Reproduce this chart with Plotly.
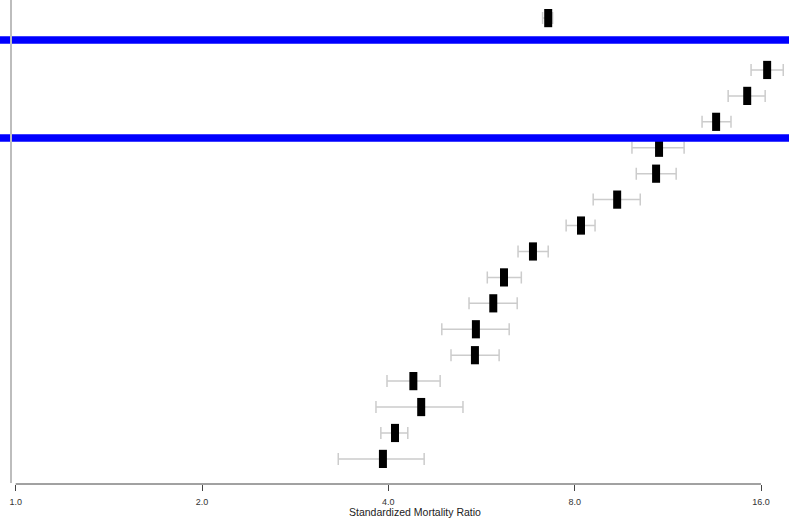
import plotly.graph_objects as go
import math

# Data: row (from top), estimate, lower CI, upper CI
rows = [0, 2, 3, 4, 5, 6, 7, 8, 9, 10, 11, 12, 13, 14, 15, 16, 17]
smr = [7.25, 16.37, 15.2, 13.54, 10.95, 10.83, 9.37, 8.19, 6.85, 6.15, 5.91, 5.54, 5.52, 4.39, 4.52, 4.10, 3.92]
lower = [7.1, 15.42, 14.16, 12.85, 9.9, 10.06, 8.57, 7.75, 6.48, 5.78, 5.40, 4.88, 5.05, 3.98, 3.82, 3.89, 3.32]
upper = [7.37, 17.38, 16.25, 14.31, 12.02, 11.67, 10.21, 8.63, 7.25, 6.56, 6.46, 6.27, 6.04, 4.85, 5.28, 4.30, 4.57]

tick_vals = [1, 2, 4, 8, 16]
tick_text = ["1.0", "2.0", "4.0", "8.0", "16.0"]
blue_rows = [0.84, 4.62]

W, H = 789, 519
plot_bottom = 484
fig = go.Figure()
fig.add_trace(go.Scatter(
    x=smr, y=rows, mode="markers",
    marker=dict(symbol="line-ns", size=13, color="black",
                line=dict(color="black", width=8)),
    error_x=dict(type="data", symmetric=False,
                 array=[u - v for u, v in zip(upper, smr)],
                 arrayminus=[v - l for v, l in zip(smr, lower)],
                 color="#cccccc", thickness=1.5, width=6),
    showlegend=False, hoverinfo="x",
))

# axis range mapping 1.0 -> 15.7px, 16.0 -> 761px
px1, px16 = 15.7, 761.0
per_px = math.log10(16) / (px16 - px1)
xr = [-px1 * per_px, math.log10(16) + (W - px16) * per_px]
k0 = 18.1
dk = 25.93
yr = [(plot_bottom - k0) / dk, -k0 / dk]

for br in blue_rows:
    fig.add_shape(type="line", xref="paper", x0=0, x1=1, yref="y", y0=br, y1=br,
                  line=dict(color="#0000ff", width=7.5), layer="above")

fig.add_shape(type="line", xref="paper", x0=11 / W, x1=11 / W, yref="paper", y0=0.002, y1=1,
              line=dict(color="#bdbdbd", width=2))
fig.add_shape(type="line", xref="x", x0=1, x1=16, yref="paper", y0=0, y1=0,
              line=dict(color="#444444", width=1))

fig.add_annotation(text="Standardized Mortality Ratio", xref="paper", yref="paper",
                   x=415 / W, y=-(512 - plot_bottom) / plot_bottom, showarrow=False,
                   xanchor="center", yanchor="middle",
                   font=dict(family="Liberation Sans, Arial", size=10.5, color="#222"))

fig.update_layout(
    width=W, height=H,
    margin=dict(l=0, r=0, t=0, b=H - plot_bottom, pad=0),
    paper_bgcolor="white", plot_bgcolor="white",
    xaxis=dict(type="log", range=xr, tickvals=tick_vals, ticktext=tick_text,
               ticks="outside", ticklen=6, tickcolor="#444", tickwidth=1,
               ticklabelstandoff=3,
               showgrid=False, zeroline=False, showline=False,
               tickfont=dict(family="Liberation Sans, Arial", size=9, color="#333")),
    yaxis=dict(range=yr, showticklabels=False, showgrid=False, zeroline=False,
               showline=False, ticks=""),
)

fig.write_html("out.html")
